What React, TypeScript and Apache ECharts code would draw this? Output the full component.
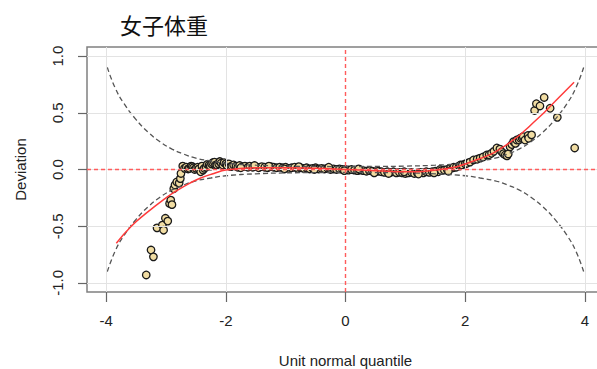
import React, { useEffect, useRef } from "react";
import * as echarts from "echarts";

const titleText = "女子体重";
const xName = "Unit normal quantile";
const yName = "Deviation";
const xTicks = [-4, -2, 0, 2, 4];
const yTicks = [-1, -0.5, 0, 0.5, 1];
const xGridLines = [-4, -2, 2, 4];
const xRange = [-4.32, 4.32];
const yRange = [-1.08, 1.08];

// worm points [unit normal quantile, deviation]
const points: [number, number][] = [
  [-3.33, -0.93], [-3.25, -0.71], [-3.21, -0.77], [-3.15, -0.515], [-3.06, -0.49],
  [-3.04, -0.535], [-3.01, -0.43], [-2.97, -0.455], [-2.94, -0.3], [-2.92, -0.27],
  [-2.9, -0.31], [-2.87, -0.17], [-2.85, -0.137], [-2.82, -0.11], [-2.78, -0.12],
  [-2.76, -0.08], [-2.75, -0.035], [-2.72, 0.03], [-2.69, 0.01], [-2.66, 0.02],
  [-2.63, 0.005], [-2.61, 0.01], [-2.58, 0.03], [-2.56, 0.025], [-2.54, 0.015],
  [-2.52, 0.0], [-2.5, 0.01], [-2.47, 0.02], [-2.45, 0.005], [-2.42, -0.02],
  [-2.4, 0.03], [-2.38, -0.005], [-2.36, 0.01], [-2.33, 0.02], [-2.31, 0.045],
  [-2.28, 0.04], [-2.26, 0.03], [-2.24, 0.05], [-2.22, 0.06], [-2.19, 0.065],
  [-2.17, 0.04], [-2.15, 0.04], [-2.12, 0.05], [-2.1, 0.07], [-2.08, 0.055],
  [-2.05, 0.04], [-2.03, 0.06], [-2.0, 0.05], [-1.98, 0.035], [-1.95, 0.05],
  [-1.92, 0.025], [-1.9, 0.03], [-1.87, 0.04], [-1.83, 0.03], [-1.8, 0.02],
  [-1.77, 0.035], [-1.72, 0.025], [-1.68, 0.03], [-1.63, 0.02], [-1.6, 0.03],
  [-1.55, 0.02], [-1.5, 0.025], [-1.45, 0.015], [-1.4, 0.025], [-1.35, 0.02],
  [-1.3, 0.015], [-1.25, 0.025], [-1.2, 0.02], [-1.15, 0.015], [-1.1, 0.02],
  [-1.05, 0.015], [-1.0, 0.02], [-0.95, 0.01], [-0.9, 0.015], [-0.85, 0.02],
  [-0.8, 0.01], [-0.75, 0.015], [-0.7, 0.01], [-0.65, 0.015], [-0.6, 0.005],
  [-0.55, 0.01], [-0.5, 0.015], [-0.45, 0.005], [-0.4, 0.01], [-0.35, 0.005],
  [-0.3, 0.01], [-0.25, 0.0], [-0.2, 0.005], [-0.15, 0.0], [-0.1, 0.005],
  [-0.05, 0.0], [0.0, 0.0], [0.05, -0.005], [0.1, 0.0], [0.15, -0.005],
  [0.2, -0.01], [0.25, -0.005], [0.3, -0.01], [0.35, -0.015], [0.4, -0.01],
  [0.45, -0.015], [0.5, -0.02], [0.55, -0.015], [0.6, -0.02], [0.65, -0.025],
  [0.7, -0.02], [0.75, -0.025], [0.8, -0.02], [0.85, -0.03], [0.9, -0.025],
  [0.95, -0.03], [1.0, -0.035], [1.05, -0.03], [1.1, -0.025], [1.15, -0.035],
  [1.2, -0.03], [1.25, -0.025], [1.3, -0.03], [1.35, -0.02], [1.4, -0.025],
  [1.45, -0.02], [1.5, -0.015], [1.55, -0.02], [1.58, 0.0], [1.6, -0.01],
  [1.65, -0.005], [1.7, 0.0], [1.75, 0.01], [1.8, 0.015], [1.81, 0.02],
  [1.85, 0.02], [1.9, 0.03], [1.92, 0.04], [1.95, 0.04], [2.0, 0.05],
  [2.03, 0.055], [2.08, 0.065], [2.14, 0.084], [2.2, 0.09], [2.25, 0.1],
  [2.3, 0.11], [2.36, 0.128], [2.4, 0.13], [2.44, 0.143], [2.48, 0.16],
  [2.53, 0.19], [2.58, 0.18], [2.61, 0.157], [2.64, 0.14], [2.67, 0.128],
  [2.7, 0.12], [2.72, 0.137], [2.75, 0.2], [2.78, 0.22], [2.81, 0.246],
  [2.84, 0.23], [2.86, 0.26], [2.9, 0.26], [2.92, 0.275], [2.95, 0.28],
  [2.97, 0.29], [3.0, 0.26], [3.05, 0.3], [3.06, 0.275], [3.11, 0.305],
  [3.16, 0.52], [3.19, 0.58], [3.25, 0.56], [3.32, 0.635], [3.42, 0.54],
  [3.54, 0.46], [3.83, 0.19],
  // extra points thickening the central band
  [-1.75, 0.015], [-1.52, 0.035], [-1.28, 0.03], [-1.02, 0.005], [-0.78, 0.025],
  [-0.52, 0.0], [-0.28, 0.02], [-0.02, -0.01], [0.22, 0.005], [0.48, -0.03],
  [0.72, -0.035], [0.98, -0.02], [1.22, -0.04], [1.48, -0.03], [1.72, -0.015],
];

// fitted worm curve
const fitZ = [-3.83, -3.58, -3.33, -3.0, -2.83, -2.6, -2.42, -2.2, -2.0, -1.5, -1.0, -0.5, 0, 0.5, 1.0, 1.58, 2.14, 2.69, 3.25, 3.5, 3.82];
const fitDev = [-0.65, -0.5, -0.385, -0.25, -0.19, -0.12, -0.075, -0.035, -0.005, 0.015, 0.015, 0.01, 0.0, -0.01, -0.02, 0.0, 0.075, 0.217, 0.467, 0.6, 0.77];

// confidence bands
const bandZ = [-3.98, -3.85, -3.7, -3.5, -3.3, -3.1, -2.9, -2.7, -2.5, -2.25, -2.0, -1.5, -1.0, -0.5, 0, 0.5, 1.0, 1.5, 2.0, 2.25, 2.5, 2.7, 2.9, 3.1, 3.3, 3.5, 3.7, 3.85, 3.98];
const bandUpper = [0.9, 0.72, 0.58, 0.44, 0.33, 0.245, 0.18, 0.135, 0.1, 0.075, 0.055, 0.038, 0.03, 0.027, 0.026, 0.027, 0.03, 0.038, 0.055, 0.075, 0.1, 0.135, 0.18, 0.245, 0.33, 0.44, 0.58, 0.72, 0.9];
const bandLower = [-0.9, -0.72, -0.58, -0.44, -0.33, -0.245, -0.18, -0.135, -0.1, -0.075, -0.055, -0.038, -0.03, -0.027, -0.026, -0.027, -0.03, -0.038, -0.055, -0.075, -0.1, -0.135, -0.18, -0.245, -0.33, -0.44, -0.58, -0.72, -0.9];

const FONT = "'Liberation Sans', Arial, sans-serif";
const REF_RED = "#ff5c5c";

export default function App() {
  const ref = useRef<HTMLDivElement>(null);
  useEffect(() => {
    if (!ref.current) return;
    const chart = echarts.init(ref.current, undefined, { renderer: "svg" });
    const zip = (xs: number[], ys: number[]) => xs.map((x, i) => [x, ys[i]]);
    chart.setOption({
      animation: false,
      backgroundColor: "#ffffff",
      title: {
        text: titleText,
        left: 115,
        top: 8,
        textStyle: { fontFamily: "'Noto Sans CJK SC', serif", fontWeight: "normal", fontSize: 22, color: "#111" },
      },
      grid: {
        left: 87, right: 16, top: 47, bottom: 77,
        outerBoundsMode: "none",
        show: true, borderColor: "#808080", borderWidth: 1.5, backgroundColor: "transparent",
      },
      xAxis: {
        type: "value", min: xRange[0], max: xRange[1],
        name: xName, nameLocation: "middle", nameGap: 61,
        nameTextStyle: { fontFamily: FONT, fontSize: 15, color: "#222" },
        axisLine: { show: false, onZero: false },
        splitLine: { show: false },
        axisTick: { show: true, customValues: xTicks, length: 10, lineStyle: { color: "#666", width: 1.2 } },
        axisLabel: { customValues: xTicks, margin: 21, fontFamily: FONT, fontSize: 15, color: "#222",
          formatter: (v: number) => String(v) },
      },
      yAxis: {
        type: "value", min: yRange[0], max: yRange[1],
        name: yName, nameLocation: "middle", nameGap: 59,
        nameTextStyle: { fontFamily: FONT, fontSize: 15, color: "#222" },
        axisLine: { show: false, onZero: false },
        splitLine: { show: false },
        axisTick: { show: true, customValues: yTicks, length: 9, lineStyle: { color: "#666", width: 1.2 } },
        axisLabel: { customValues: yTicks, rotate: 90, margin: 22, fontFamily: FONT, fontSize: 15, color: "#222",
          formatter: (v: number) => v.toFixed(1) },
      },
      series: [
        {
          type: "line", data: [], z: 1, silent: true,
          markLine: {
            silent: true, symbol: "none", label: { show: false }, animation: false,
            lineStyle: { color: "#e3e3e3", width: 1, type: "solid" },
            data: [...xGridLines.map((v) => ({ xAxis: v })), ...yTicks.map((v) => ({ yAxis: v }))],
          },
        },
        {
          type: "scatter", data: points, z: 3, symbol: "circle", symbolSize: 7.5,
          itemStyle: { color: "#f1dda3", borderColor: "#1a1a1a", borderWidth: 1.3, opacity: 1 },
        },
        {
          type: "line", data: zip(bandZ, bandUpper), z: 4, smooth: true, symbol: "none",
          lineStyle: { color: "#555", width: 1.3, type: [5, 3] },
        },
        {
          type: "line", data: zip(bandZ, bandLower), z: 4, smooth: true, symbol: "none",
          lineStyle: { color: "#555", width: 1.3, type: [5, 3] },
        },
        {
          type: "line", data: [], z: 6, silent: true,
          markLine: {
            silent: true, symbol: "none", label: { show: false }, animation: false,
            lineStyle: { color: REF_RED, width: 1.4, type: [4, 3], opacity: 1 },
            data: [
              [{ coord: [xRange[0], 0] }, { coord: [xRange[1], 0] }],
              [{ coord: [0, yRange[0]] }, { coord: [0, yRange[1]] }],
            ],
          },
        },
        {
          type: "line", data: zip(fitZ, fitDev), z: 7, smooth: true, symbol: "none",
          lineStyle: { color: "#ff3b3b", width: 1.5 },
        },
      ],
    });
    return () => chart.dispose();
  }, []);
  return (
    <div style={{ position: "fixed", left: 0, top: 0, width: 597, height: 369, overflow: "hidden", background: "#fff" }}>
      <div ref={ref} style={{ width: 620, height: 369 }} />
    </div>
  );
}
